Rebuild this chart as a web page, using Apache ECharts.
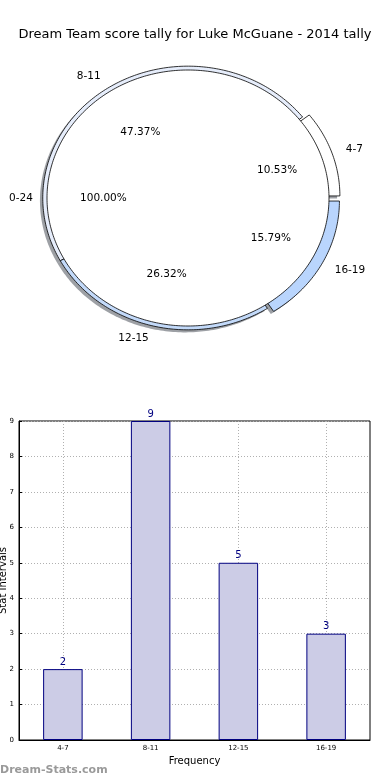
<!DOCTYPE html>
<html><head><meta charset="utf-8">
<script src="https://cdn.jsdelivr.net/npm/echarts@6/dist/echarts.min.js"></script>
<style>html,body{margin:0;padding:0;background:#fff}#c{width:390px;height:780px}</style>
</head><body><div id="c"></div>
<script>
const chartTitle = 'Dream Team score tally for Luke McGuane - 2014 tally';
const ringCategories = ['4-7', '8-11', '12-15', '16-19'];
const ringValues = [2, 9, 5, 3];
const innerCategories = ['0-24'];
const innerValues = [19];
const barCategories = ['4-7', '8-11', '12-15', '16-19'];
const barValues = [2, 9, 5, 3];

// styles
const ringColors = ['#ffffff', '#e6edfb', '#c3dafa', '#b9d5fd'];
const ringExplode = [0.05, 0, 0, 0.05];
const RING_R = 1.03;
const FONT = '"DejaVu Sans", sans-serif';

function sliceAngles(values) {
  const tot = values.reduce((a, b) => a + b, 0);
  let acc = 0;
  return values.map(v => { const a0 = acc / tot * 2 * Math.PI; acc += v; return [a0, acc / tot * 2 * Math.PI]; });
}
const ringAngles = sliceAngles(ringValues);
const innerAngles = sliceAngles(innerValues);

function wedgePoints(api, ox, oy, a0, a1, r, full) {
  const pts = full ? [] : [api.coord([ox, oy])];
  const n = Math.max(6, Math.ceil((a1 - a0) / (Math.PI / 180)));
  for (let k = 0; k <= n; k++) {
    const a = a0 + (a1 - a0) * k / n;
    pts.push(api.coord([ox + r * Math.cos(a), oy + r * Math.sin(a)]));
  }
  return pts;
}
function pct(v, values) { const t = values.reduce((a, b) => a + b, 0); return (v / t * 100).toFixed(2) + '%'; }

const option = {
  animation: false,
  title: { text: chartTitle, left: 'center', top: 23, textStyle: { fontFamily: FONT, fontSize: 13, fontWeight: 'normal', color: '#000' } },
  grid: [
    { left: 47, top: 70, width: 282, height: 256, show: false, containLabel: false, outerBoundsMode: 'none' },
    { left: 19, right: 20, top: 421, bottom: 40, show: true, borderColor: '#000', borderWidth: 1, backgroundColor: 'transparent', containLabel: false, outerBoundsMode: 'none' }
  ],
  xAxis: [
    { gridIndex: 0, type: 'value', min: -1, max: 1, show: false },
    { gridIndex: 1, type: 'category', data: barCategories,
      axisLine: { show: true, lineStyle: { color: '#000', width: 1 } },
      axisTick: { show: true, alignWithLabel: true, inside: true, length: 3, lineStyle: { color: '#000' } },
      axisLabel: { fontFamily: FONT, fontSize: 7, color: '#000', margin: 5 },
      splitLine: { show: true, alignWithLabel: true, lineStyle: { type: [1, 2], color: '#b0b0b0', width: 1 } },
      name: 'Frequency', nameLocation: 'middle', nameGap: 16, nameMoveOverlap: false,
      nameTextStyle: { fontFamily: FONT, fontSize: 10, color: '#000' } }
  ],
  yAxis: [
    { gridIndex: 0, type: 'value', min: -1, max: 1, show: false },
    { gridIndex: 1, type: 'value', min: 0, max: 9, interval: 1,
      axisLine: { show: true, lineStyle: { color: '#000', width: 1 } },
      axisTick: { show: true, inside: true, length: 3, lineStyle: { color: '#000' } },
      axisLabel: { fontFamily: FONT, fontSize: 7, color: '#000', margin: 5 },
      splitLine: { show: true, lineStyle: { type: [1, 2], color: '#b0b0b0', width: 1 } },
      name: 'Stat Intervals', nameLocation: 'middle', nameGap: 11, nameRotate: 90, nameMoveOverlap: false,
      nameTextStyle: { fontFamily: FONT, fontSize: 10, color: '#000' } }
  ],
  graphic: [
    { type: 'text', left: 0, top: 765, style: { text: 'Dream-Stats.com', fill: '#9a9a9a', font: 'bold 11px ' + FONT } }
  ],
  series: [
    { // ring shadows
      type: 'custom', xAxisIndex: 0, yAxisIndex: 0, z: 1, silent: true,
      data: ringValues.map(v => [0, 0, v]),
      renderItem: function (params, api) {
        const i = params.dataIndex; const [a0, a1] = ringAngles[i];
        const mid = (a0 + a1) / 2, e = ringExplode[i];
        return { type: 'polygon', shape: { points: wedgePoints(api, e * Math.cos(mid) - 0.02, e * Math.sin(mid) - 0.02, a0, a1, RING_R) },
          style: { fill: 'rgba(60,65,75,0.5)', stroke: null } };
      }
    },
    { // ring slices
      type: 'custom', xAxisIndex: 0, yAxisIndex: 0, z: 2, silent: true,
      data: ringValues.map(v => [0, 0, v]),
      renderItem: function (params, api) {
        const i = params.dataIndex; const [a0, a1] = ringAngles[i];
        const mid = (a0 + a1) / 2, e = ringExplode[i];
        return { type: 'polygon', shape: { points: wedgePoints(api, e * Math.cos(mid), e * Math.sin(mid), a0, a1, RING_R) },
          style: { fill: ringColors[i], stroke: '#000', lineWidth: 0.8 } };
      }
    },
    { // inner pie
      type: 'custom', xAxisIndex: 0, yAxisIndex: 0, z: 3, silent: true,
      data: innerValues.map(v => [0, 0, v]),
      renderItem: function (params, api) {
        const [a0, a1] = innerAngles[params.dataIndex];
        const full = (a1 - a0) >= 2 * Math.PI - 1e-9;
        return { type: 'polygon', shape: { points: wedgePoints(api, 0, 0, a0, a1, 1, full) },
          style: { fill: '#ffffff', stroke: '#000', lineWidth: 0.8 } };
      }
    },
    { // ring labels
      type: 'custom', xAxisIndex: 0, yAxisIndex: 0, z: 4, silent: true,
      data: ringValues.map(v => [0, 0, v]),
      renderItem: function (params, api) {
        const i = params.dataIndex; const [a0, a1] = ringAngles[i];
        const mid = (a0 + a1) / 2, e = ringExplode[i];
        const c = Math.cos(mid), s = Math.sin(mid);
        const pL = api.coord([(1.1 * RING_R + e) * c, (1.1 * RING_R + e) * s]);
        const pP = api.coord([(0.6 * RING_R + e) * c, (0.6 * RING_R + e) * s]);
        return { type: 'group', children: [
          { type: 'text', x: pL[0], y: pL[1], style: { text: ringCategories[i], fill: '#000', font: '10.5px ' + FONT, align: c > 0 ? 'left' : 'right', verticalAlign: 'middle' } },
          { type: 'text', x: pP[0], y: pP[1], style: { text: pct(api.value(2), ringValues), fill: '#000', font: '10.5px ' + FONT, align: 'center', verticalAlign: 'middle' } }
        ] };
      }
    },
    { // inner labels
      type: 'custom', xAxisIndex: 0, yAxisIndex: 0, z: 4, silent: true,
      data: innerValues.map(v => [0, 0, v]),
      renderItem: function (params, api) {
        const i = params.dataIndex; const [a0, a1] = innerAngles[i];
        const mid = (a0 + a1) / 2; const c = Math.cos(mid), s = Math.sin(mid);
        const pL = api.coord([1.1 * c, 1.1 * s]);
        const pP = api.coord([0.6 * c, 0.6 * s]);
        return { type: 'group', children: [
          { type: 'text', x: pL[0], y: pL[1], style: { text: innerCategories[i], fill: '#000', font: '10.5px ' + FONT, align: c > 0 ? 'left' : 'right', verticalAlign: 'middle' } },
          { type: 'text', x: pP[0], y: pP[1], style: { text: pct(api.value(2), innerValues), fill: '#000', font: '10.5px ' + FONT, align: 'center', verticalAlign: 'middle' } }
        ] };
      }
    },
    { // bars
      type: 'bar', xAxisIndex: 1, yAxisIndex: 1, data: barValues, barWidth: '45%', z: 2,
      itemStyle: { color: '#ccccE6', borderColor: '#000080', borderWidth: 1 },
      label: { show: true, position: 'top', distance: 2, color: '#000080', fontFamily: FONT, fontSize: 10 }
    }
  ]
};
const chart = echarts.init(document.getElementById('c'), null, { renderer: 'canvas' });
chart.setOption(option);
</script></body></html>
